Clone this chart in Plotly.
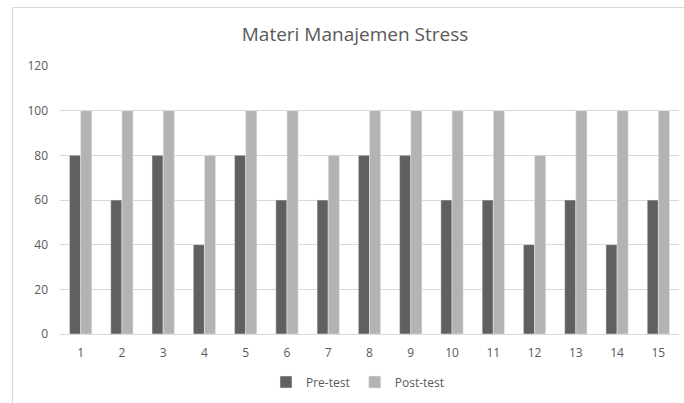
import plotly.graph_objects as go

categories = [str(i) for i in range(1, 16)]
pre_test = [80, 60, 80, 40, 80, 60, 60, 80, 80, 60, 60, 40, 60, 40, 60]
post_test = [100, 100, 100, 80, 100, 100, 80, 100, 100, 100, 100, 80, 100, 100, 100]
y_ticks = [0, 20, 40, 60, 80, 100, 120]

W, H = 684, 403
L, R, T, B = 60, 5, 66, 69

fig = go.Figure()
fig.add_trace(go.Bar(name="Pre-test", x=categories, y=pre_test, marker_color="#606060"))
fig.add_trace(go.Bar(name="Post-test", x=categories, y=post_test, marker_color="#b3b3b3"))

pw = W - L - R
ph = H - T - B
def px_x(x):
    return (x - L) / pw
def px_y(y):
    return (H - B - y) / ph

fig.update_layout(
    width=W, height=H,
    margin=dict(l=L, r=R, t=T, b=B),
    paper_bgcolor="white", plot_bgcolor="white",
    barmode="group", bargap=0.46, bargroupgap=0,
    font=dict(family="Open Sans, Lato, sans-serif", color="#595959", size=12),
    title=dict(text="Materi Manajemen Stress", x=px_x(355), xref="paper", xanchor="center",
               y=1 - 34 / H, yanchor="middle", font=dict(size=19, color="#595959")),
    xaxis=dict(showgrid=False, showline=True, linecolor="#d9d9d9", linewidth=1,
               ticks="", ticklabelstandoff=8, tickfont=dict(size=12, color="#595959")),
    yaxis=dict(range=[0, 120], tickvals=y_ticks, showgrid=True, gridcolor="#d9d9d9",
               gridwidth=1, zeroline=False, showline=False, ticks="",
               ticklabelstandoff=11, tickfont=dict(size=12, color="#595959")),
    legend=dict(orientation="h", x=px_x(358), xanchor="center", y=px_y(382), yanchor="middle",
                font=dict(size=12, color="#595959"), traceorder="normal",
                itemwidth=30, tracegroupgap=0),
    showlegend=True,
    shapes=[dict(type="rect", xref="paper", yref="paper",
                 x0=px_x(12.5), x1=px_x(690), y0=px_y(410), y1=px_y(7.5),
                 line=dict(color="#d9d9d9", width=1), fillcolor="rgba(0,0,0,0)", layer="below")],
)

fig.write_html("out.html", config={"displayModeBar": False},
               post_script="document.body.style.margin='0';document.body.style.overflow='hidden';")
